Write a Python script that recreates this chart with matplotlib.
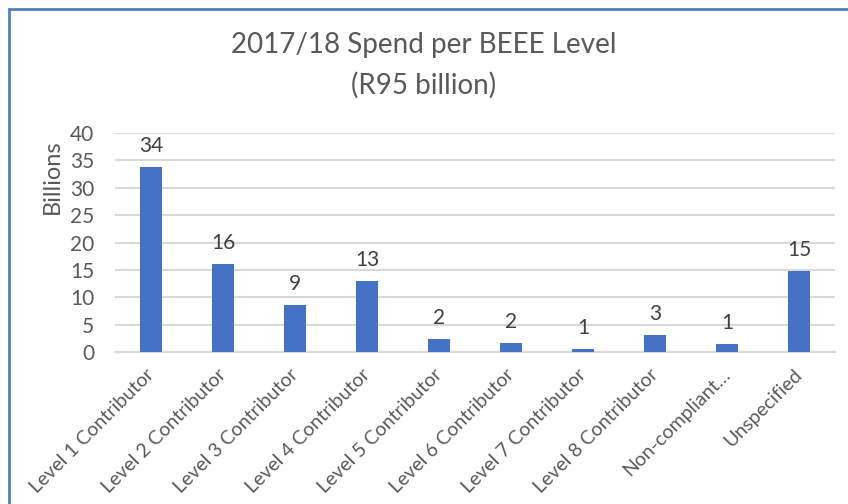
import matplotlib
matplotlib.use("Agg")
import matplotlib.pyplot as plt
from matplotlib.patches import Rectangle
from matplotlib.transforms import ScaledTranslation

plt.rcParams['font.family'] = ['Lato', 'DejaVu Sans']

# spend per level, billions of rand
categories = ["Level 1 Contributor", "Level 2 Contributor", "Level 3 Contributor",
              "Level 4 Contributor", "Level 5 Contributor", "Level 6 Contributor",
              "Level 7 Contributor", "Level 8 Contributor", "Non-compliant\u2026",
              "Unspecified"]
spend = [33.8, 16.1, 8.6, 12.9, 2.3, 1.6, 0.6, 3.1, 1.4, 14.8]
yticks = [0, 5, 10, 15, 20, 25, 30, 35, 40]

bar_color = "#4472C4"
grid_color = "#D9D9D9"
text_color = "#595959"

fig = plt.figure(figsize=(8.48, 5.04), dpi=100)
ax = fig.add_axes([0.1356, 0.3016, 0.8494, 0.4344])

x = range(len(categories))
bars = ax.bar(x, spend, width=0.31, color=bar_color, zorder=3)

for b, v in zip(bars, spend):
    ax.annotate("{:.0f}".format(v), (b.get_x() + b.get_width() / 2, v),
                xytext=(0, 8), textcoords="offset points",
                ha="center", va="bottom", fontsize=15, color="#404040")

ax.set_xlim(-0.5, len(categories) - 0.5)
ax.set_ylim(0, 40)
ax.set_yticks(yticks)
ax.yaxis.grid(True, color=grid_color, linewidth=1.5, zorder=0)
ax.set_axisbelow(True)
for side in ["top", "right", "left"]:
    ax.spines[side].set_visible(False)
ax.spines["bottom"].set_color(grid_color)
ax.spines["bottom"].set_linewidth(1.5)
ax.tick_params(axis="both", length=0, colors=text_color, labelsize=15)
ax.tick_params(axis="y", pad=15)

ax.set_xticks(list(x))
ax.set_xticklabels(categories, rotation=45, ha="right", va="top",
                   rotation_mode="anchor", fontsize=14, color=text_color)
ax.tick_params(axis="x", pad=10)
shift = ScaledTranslation(-6 / 100, 0, fig.dpi_scale_trans)
for lbl in ax.get_xticklabels():
    lbl.set_transform(lbl.get_transform() + shift)

ax.set_ylabel("Billions", fontsize=17, color=text_color)
ax.yaxis.set_label_coords(-0.073, 0.80)

fig.text(0.5, 0.91, "2017/18 Spend per BEEE Level", ha="center", va="center",
         fontsize=20, color=text_color)
fig.text(0.5, 0.83, "(R95 billion)", ha="center", va="center",
         fontsize=20, color=text_color)

# chart border
fig.patches.append(Rectangle((9 / 848, -0.1), 1.2, 1 - 9 / 504 + 0.1,
                             transform=fig.transFigure, fill=False,
                             edgecolor="#4F81BD", linewidth=2))

fig.savefig("out.png", dpi=100)
